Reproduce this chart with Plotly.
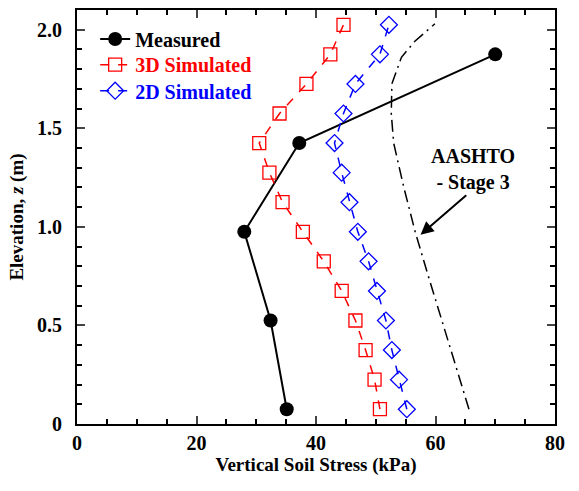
import plotly.graph_objects as go

# Data
meas_x = [70.0, 37.2, 28.0, 32.4, 35.1]
meas_y = [1.875, 1.425, 0.975, 0.525, 0.075]

sim_y = [0.075, 0.225, 0.375, 0.525, 0.675, 0.825, 0.975, 1.125, 1.275, 1.425, 1.575, 1.725, 1.875, 2.025]
sim3d_x = [50.7, 49.8, 48.3, 46.6, 44.3, 41.3, 37.8, 34.4, 32.2, 30.5, 33.9, 38.4, 42.4, 44.6]
sim2d_x = [55.2, 53.9, 52.7, 51.7, 50.2, 48.8, 47.0, 45.6, 44.3, 43.1, 44.6, 46.6, 50.7, 52.2]

aashto_x = [65.6, 63.3, 61.0, 58.8, 56.6, 54.7, 53.0, 52.6, 52.7, 54.3, 56.5, 59.9]
aashto_y = [0.075, 0.3, 0.525, 0.75, 0.975, 1.2, 1.425, 1.575, 1.725, 1.86, 1.94, 2.03]

x_ticks = [0, 20, 40, 60, 80]
y_ticks = [0, 0.5, 1.0, 1.5, 2.0]
y_ticktext = ["0", "0.5", "1.0", "1.5", "2.0"]

FONT = "Liberation Serif"

fig = go.Figure()
fig.add_trace(go.Scatter(x=aashto_x, y=aashto_y, mode="lines",
                         line=dict(color="black", width=1.5, dash="12px,5px,2px,5px"),
                         showlegend=False))
fig.add_trace(go.Scatter(x=meas_x, y=meas_y, mode="lines+markers", name="Measured",
                         line=dict(color="black", width=2),
                         marker=dict(symbol="circle", size=14, color="black"),
                         legend="legend"))
fig.add_trace(go.Scatter(x=sim3d_x, y=sim_y, mode="lines+markers", name="3D Simulated",
                         line=dict(color="red", width=1.5, dash="dash"),
                         marker=dict(symbol="square-open", size=13, color="red", line=dict(width=1.3)),
                         legend="legend2"))
fig.add_trace(go.Scatter(x=sim2d_x, y=sim_y, mode="lines+markers", name="2D Simulated",
                         line=dict(color="blue", width=1.5, dash="dash"),
                         marker=dict(symbol="diamond-open", size=13, color="blue", line=dict(width=1.3)),
                         legend="legend3"))

def leg(y, color):
    return dict(x=0.038, y=y, xanchor="left", yanchor="middle", bgcolor="rgba(0,0,0,0)",
                font=dict(family=FONT, size=20, color=color, weight="bold"),
                itemwidth=30, tracegroupgap=0)

fig.update_layout(
    width=579, height=491,
    margin=dict(l=77, r=24, t=8, b=67),
    plot_bgcolor="white", paper_bgcolor="white",
    font=dict(family=FONT, size=19, color="black", weight="bold"),
    legend=leg(0.93, "black"),
    legend2=leg(0.868, "red"),
    legend3=leg(0.805, "blue"),
    xaxis=dict(range=[0, 80], tickvals=x_ticks, ticks="inside", ticklen=8, tickwidth=2,
               showline=True, linewidth=2, linecolor="black", mirror="ticks",
               showgrid=False, zeroline=False,
               minor=dict(dtick=5, ticks="inside", ticklen=5, tickwidth=2, tickcolor="black"),
               title=dict(text="Vertical Soil Stress (kPa)", font=dict(size=19), standoff=2),
               tickfont=dict(size=20)),
    yaxis=dict(range=[0, 2.1], tickvals=y_ticks, ticktext=y_ticktext, ticks="inside",
               ticklen=8, tickwidth=2, ticklabelstandoff=9,
               showline=True, linewidth=2, linecolor="black", mirror="ticks",
               showgrid=False, zeroline=False,
               minor=dict(dtick=0.1, ticks="inside", ticklen=5, tickwidth=2, tickcolor="black"),
               title=dict(text="Elevation, <i>z</i> (m)", font=dict(size=19), standoff=8),
               tickfont=dict(size=20)),
)
fig.add_annotation(x=57.5, y=0.96, ax=65.4, ay=1.167, axref="x", ayref="y", xref="x", yref="y",
                   text="", showarrow=True, arrowhead=2, arrowsize=1.3, arrowwidth=2,
                   arrowcolor="black")
fig.add_annotation(text="AASHTO<br>- Stage 3", xref="x", yref="y", x=66.2, y=1.29,
                   showarrow=False, font=dict(family=FONT, size=20, color="black", weight="bold"),
                   align="center")
fig.write_html("out.html")
